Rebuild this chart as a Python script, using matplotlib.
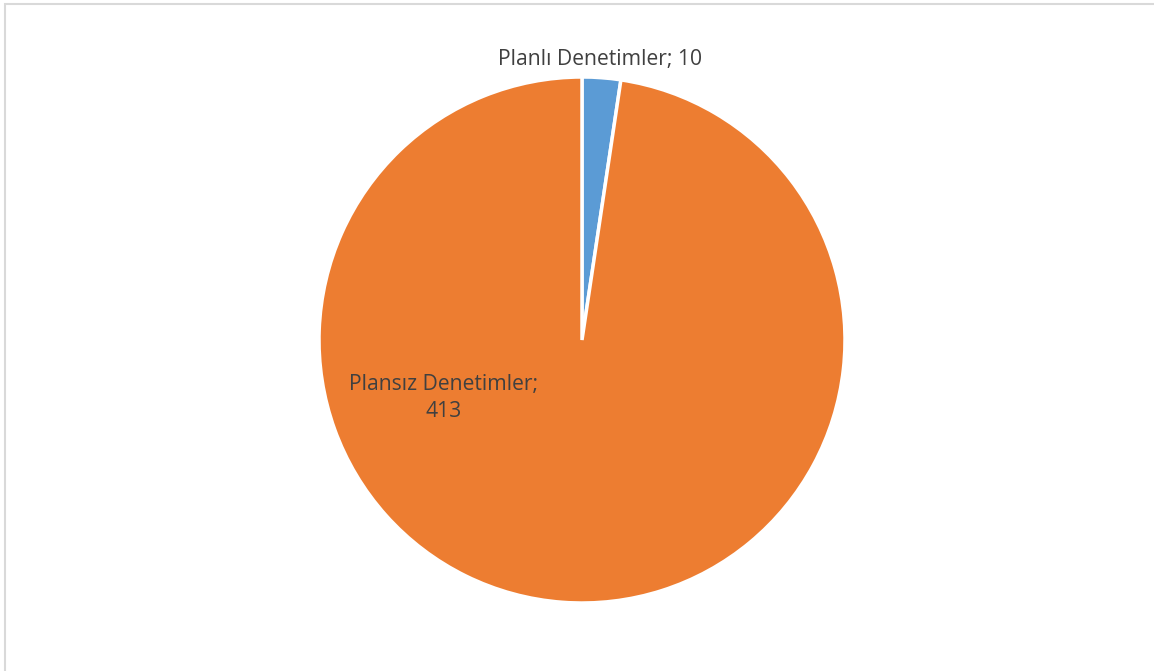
import matplotlib.pyplot as plt
from matplotlib.patches import Rectangle

categories = ['Planlı Denetimler', 'Plansız Denetimler']
values = [10, 413]
colors = ['#5B9BD5', '#ED7D31']

W, H = 1154, 671
fig = plt.figure(figsize=(W / 100, H / 100), dpi=100)
fig.patch.set_facecolor('white')

# light gray chart border (right/bottom edges fall outside the image)
fig.patches.append(Rectangle((5 / W, -0.1), 1.2, 1 - 4 / H + 0.1, transform=fig.transFigure,
                             fill=False, edgecolor='#d9d9d9', linewidth=1.5))

cx, cy, r = 582, 331, 263
ax = fig.add_axes([(cx - r) / W, (cy - r) / H, 2 * r / W, 2 * r / H])
ax.pie(values, colors=colors, startangle=90, counterclock=False,
       wedgeprops=dict(edgecolor='white', linewidth=2.5))
ax.set_xlim(-1, 1)
ax.set_ylim(-1, 1)
ax.axis('off')

label_pos = [(0.068, 1.068), (-0.527, -0.221)]
label_txt = [f'{categories[0]}; {values[0]}', f'{categories[1]};\n{values[1]}']
for (x, y), t in zip(label_pos, label_txt):
    ax.text(x, y, t, ha='center', va='center', fontsize=15.2, color='#404040',
            family='Open Sans', linespacing=1.42, clip_on=False)

fig.savefig('out.png', dpi=100)
